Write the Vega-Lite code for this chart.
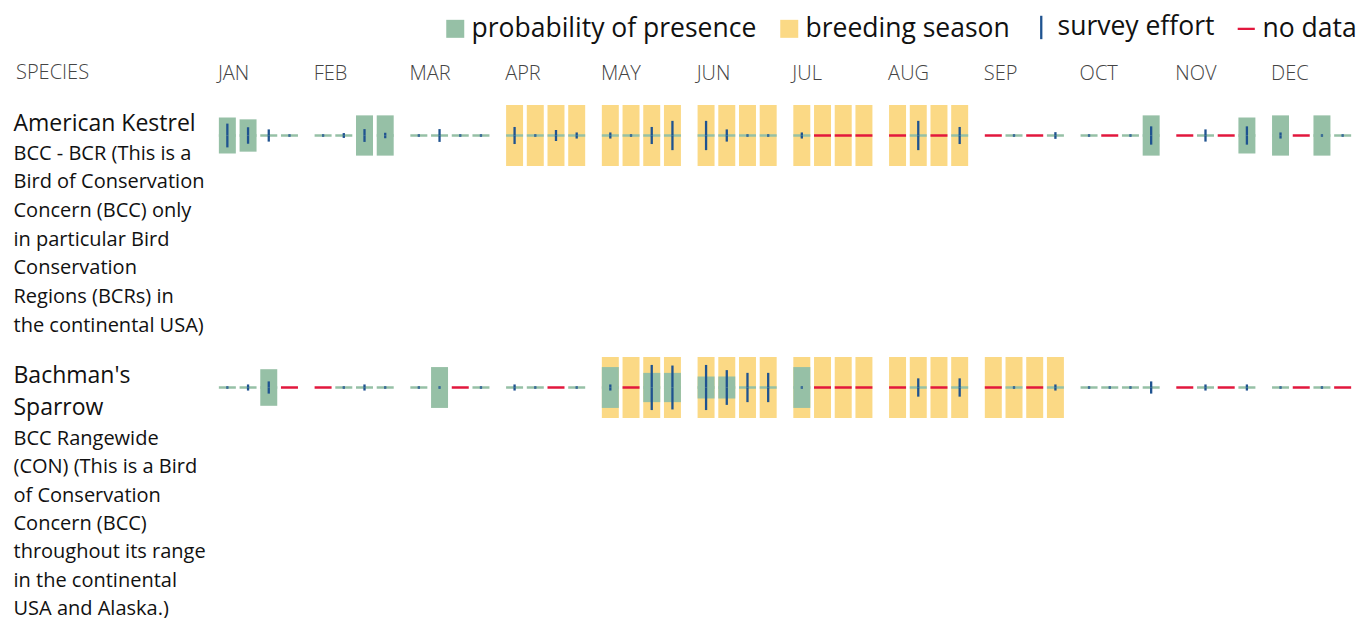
{
  "$schema": "https://vega.github.io/schema/vega-lite/v6.json",
  "padding": {"left": 13, "top": 0, "right": 0, "bottom": 0},
  "config": {
    "font": "Open Sans",
    "view": {"stroke": null}
  },
  "datasets": {
    "weeks": [
      {"sp":"AK","month":"JAN","week":1,"prob":0.59,"effort":0.39,"nodata":0,"breeding":0},
      {"sp":"AK","month":"JAN","week":2,"prob":0.53,"effort":0.27,"nodata":0,"breeding":0},
      {"sp":"AK","month":"JAN","week":3,"prob":0,"effort":0.20,"nodata":0,"breeding":0},
      {"sp":"AK","month":"JAN","week":4,"prob":0,"effort":0.04,"nodata":0,"breeding":0},
      {"sp":"AK","month":"FEB","week":1,"prob":0,"effort":0.04,"nodata":0,"breeding":0},
      {"sp":"AK","month":"FEB","week":2,"prob":0,"effort":0.08,"nodata":0,"breeding":0},
      {"sp":"AK","month":"FEB","week":3,"prob":0.66,"effort":0.21,"nodata":0,"breeding":0},
      {"sp":"AK","month":"FEB","week":4,"prob":0.66,"effort":0.09,"nodata":0,"breeding":0},
      {"sp":"AK","month":"MAR","week":1,"prob":0,"effort":0.04,"nodata":0,"breeding":0},
      {"sp":"AK","month":"MAR","week":2,"prob":0,"effort":0.21,"nodata":0,"breeding":0},
      {"sp":"AK","month":"MAR","week":3,"prob":0,"effort":0.04,"nodata":0,"breeding":0},
      {"sp":"AK","month":"MAR","week":4,"prob":0,"effort":0.04,"nodata":0,"breeding":0},
      {"sp":"AK","month":"APR","week":1,"prob":0,"effort":0.28,"nodata":0,"breeding":1},
      {"sp":"AK","month":"APR","week":2,"prob":0,"effort":0.04,"nodata":0,"breeding":1},
      {"sp":"AK","month":"APR","week":3,"prob":0,"effort":0.18,"nodata":0,"breeding":1},
      {"sp":"AK","month":"APR","week":4,"prob":0,"effort":0.10,"nodata":0,"breeding":1},
      {"sp":"AK","month":"MAY","week":1,"prob":0,"effort":0.10,"nodata":0,"breeding":1},
      {"sp":"AK","month":"MAY","week":2,"prob":0,"effort":0.04,"nodata":0,"breeding":1},
      {"sp":"AK","month":"MAY","week":3,"prob":0,"effort":0.28,"nodata":0,"breeding":1},
      {"sp":"AK","month":"MAY","week":4,"prob":0,"effort":0.48,"nodata":0,"breeding":1},
      {"sp":"AK","month":"JUN","week":1,"prob":0,"effort":0.48,"nodata":0,"breeding":1},
      {"sp":"AK","month":"JUN","week":2,"prob":0,"effort":0.20,"nodata":0,"breeding":1},
      {"sp":"AK","month":"JUN","week":3,"prob":0,"effort":0.04,"nodata":0,"breeding":1},
      {"sp":"AK","month":"JUN","week":4,"prob":0,"effort":0.04,"nodata":0,"breeding":1},
      {"sp":"AK","month":"JUL","week":1,"prob":0,"effort":0.10,"nodata":0,"breeding":1},
      {"sp":"AK","month":"JUL","week":2,"prob":0,"effort":0,"nodata":1,"breeding":1},
      {"sp":"AK","month":"JUL","week":3,"prob":0,"effort":0,"nodata":1,"breeding":1},
      {"sp":"AK","month":"JUL","week":4,"prob":0,"effort":0,"nodata":1,"breeding":1},
      {"sp":"AK","month":"AUG","week":1,"prob":0,"effort":0,"nodata":1,"breeding":1},
      {"sp":"AK","month":"AUG","week":2,"prob":0,"effort":0.48,"nodata":0,"breeding":1},
      {"sp":"AK","month":"AUG","week":3,"prob":0,"effort":0,"nodata":1,"breeding":1},
      {"sp":"AK","month":"AUG","week":4,"prob":0,"effort":0.28,"nodata":0,"breeding":1},
      {"sp":"AK","month":"SEP","week":1,"prob":0,"effort":0,"nodata":1,"breeding":0},
      {"sp":"AK","month":"SEP","week":2,"prob":0,"effort":0.04,"nodata":0,"breeding":0},
      {"sp":"AK","month":"SEP","week":3,"prob":0,"effort":0,"nodata":1,"breeding":0},
      {"sp":"AK","month":"SEP","week":4,"prob":0,"effort":0.11,"nodata":0,"breeding":0},
      {"sp":"AK","month":"OCT","week":1,"prob":0,"effort":0.04,"nodata":0,"breeding":0},
      {"sp":"AK","month":"OCT","week":2,"prob":0,"effort":0,"nodata":1,"breeding":0},
      {"sp":"AK","month":"OCT","week":3,"prob":0,"effort":0.04,"nodata":0,"breeding":0},
      {"sp":"AK","month":"OCT","week":4,"prob":0.66,"effort":0.30,"nodata":0,"breeding":0},
      {"sp":"AK","month":"NOV","week":1,"prob":0,"effort":0,"nodata":1,"breeding":0},
      {"sp":"AK","month":"NOV","week":2,"prob":0,"effort":0.20,"nodata":0,"breeding":0},
      {"sp":"AK","month":"NOV","week":3,"prob":0,"effort":0,"nodata":1,"breeding":0},
      {"sp":"AK","month":"NOV","week":4,"prob":0.59,"effort":0.30,"nodata":0,"breeding":0},
      {"sp":"AK","month":"DEC","week":1,"prob":0.66,"effort":0.10,"nodata":0,"breeding":0},
      {"sp":"AK","month":"DEC","week":2,"prob":0,"effort":0,"nodata":1,"breeding":0},
      {"sp":"AK","month":"DEC","week":3,"prob":0.66,"effort":0.04,"nodata":0,"breeding":0},
      {"sp":"AK","month":"DEC","week":4,"prob":0,"effort":0.04,"nodata":0,"breeding":0},
      {"sp":"BS","month":"JAN","week":1,"prob":0,"effort":0.04,"nodata":0,"breeding":0},
      {"sp":"BS","month":"JAN","week":2,"prob":0,"effort":0.10,"nodata":0,"breeding":0},
      {"sp":"BS","month":"JAN","week":3,"prob":0.60,"effort":0.20,"nodata":0,"breeding":0},
      {"sp":"BS","month":"JAN","week":4,"prob":0,"effort":0,"nodata":1,"breeding":0},
      {"sp":"BS","month":"FEB","week":1,"prob":0,"effort":0,"nodata":1,"breeding":0},
      {"sp":"BS","month":"FEB","week":2,"prob":0,"effort":0.04,"nodata":0,"breeding":0},
      {"sp":"BS","month":"FEB","week":3,"prob":0,"effort":0.10,"nodata":0,"breeding":0},
      {"sp":"BS","month":"FEB","week":4,"prob":0,"effort":0.04,"nodata":0,"breeding":0},
      {"sp":"BS","month":"MAR","week":1,"prob":0,"effort":0.04,"nodata":0,"breeding":0},
      {"sp":"BS","month":"MAR","week":2,"prob":0.67,"effort":0.04,"nodata":0,"breeding":0},
      {"sp":"BS","month":"MAR","week":3,"prob":0,"effort":0,"nodata":1,"breeding":0},
      {"sp":"BS","month":"MAR","week":4,"prob":0,"effort":0.04,"nodata":0,"breeding":0},
      {"sp":"BS","month":"APR","week":1,"prob":0,"effort":0.10,"nodata":0,"breeding":0},
      {"sp":"BS","month":"APR","week":2,"prob":0,"effort":0.04,"nodata":0,"breeding":0},
      {"sp":"BS","month":"APR","week":3,"prob":0,"effort":0,"nodata":1,"breeding":0},
      {"sp":"BS","month":"APR","week":4,"prob":0,"effort":0.04,"nodata":0,"breeding":0},
      {"sp":"BS","month":"MAY","week":1,"prob":0.67,"effort":0.10,"nodata":0,"breeding":1},
      {"sp":"BS","month":"MAY","week":2,"prob":0,"effort":0,"nodata":1,"breeding":1},
      {"sp":"BS","month":"MAY","week":3,"prob":0.48,"effort":0.74,"nodata":0,"breeding":1},
      {"sp":"BS","month":"MAY","week":4,"prob":0.48,"effort":0.72,"nodata":0,"breeding":1},
      {"sp":"BS","month":"JUN","week":1,"prob":0.36,"effort":0.74,"nodata":0,"breeding":1},
      {"sp":"BS","month":"JUN","week":2,"prob":0.36,"effort":0.57,"nodata":0,"breeding":1},
      {"sp":"BS","month":"JUN","week":3,"prob":0,"effort":0.48,"nodata":0,"breeding":1},
      {"sp":"BS","month":"JUN","week":4,"prob":0,"effort":0.48,"nodata":0,"breeding":1},
      {"sp":"BS","month":"JUL","week":1,"prob":0.67,"effort":0.04,"nodata":0,"breeding":1},
      {"sp":"BS","month":"JUL","week":2,"prob":0,"effort":0,"nodata":1,"breeding":1},
      {"sp":"BS","month":"JUL","week":3,"prob":0,"effort":0,"nodata":1,"breeding":1},
      {"sp":"BS","month":"JUL","week":4,"prob":0,"effort":0,"nodata":1,"breeding":1},
      {"sp":"BS","month":"AUG","week":1,"prob":0,"effort":0,"nodata":1,"breeding":1},
      {"sp":"BS","month":"AUG","week":2,"prob":0,"effort":0.30,"nodata":0,"breeding":1},
      {"sp":"BS","month":"AUG","week":3,"prob":0,"effort":0,"nodata":1,"breeding":1},
      {"sp":"BS","month":"AUG","week":4,"prob":0,"effort":0.30,"nodata":0,"breeding":1},
      {"sp":"BS","month":"SEP","week":1,"prob":0,"effort":0,"nodata":1,"breeding":1},
      {"sp":"BS","month":"SEP","week":2,"prob":0,"effort":0.04,"nodata":0,"breeding":1},
      {"sp":"BS","month":"SEP","week":3,"prob":0,"effort":0,"nodata":1,"breeding":1},
      {"sp":"BS","month":"SEP","week":4,"prob":0,"effort":0.10,"nodata":0,"breeding":1},
      {"sp":"BS","month":"OCT","week":1,"prob":0,"effort":0.04,"nodata":0,"breeding":0},
      {"sp":"BS","month":"OCT","week":2,"prob":0,"effort":0.04,"nodata":0,"breeding":0},
      {"sp":"BS","month":"OCT","week":3,"prob":0,"effort":0.04,"nodata":0,"breeding":0},
      {"sp":"BS","month":"OCT","week":4,"prob":0,"effort":0.20,"nodata":0,"breeding":0},
      {"sp":"BS","month":"NOV","week":1,"prob":0,"effort":0,"nodata":1,"breeding":0},
      {"sp":"BS","month":"NOV","week":2,"prob":0,"effort":0.10,"nodata":0,"breeding":0},
      {"sp":"BS","month":"NOV","week":3,"prob":0,"effort":0,"nodata":1,"breeding":0},
      {"sp":"BS","month":"NOV","week":4,"prob":0,"effort":0.10,"nodata":0,"breeding":0},
      {"sp":"BS","month":"DEC","week":1,"prob":0,"effort":0.04,"nodata":0,"breeding":0},
      {"sp":"BS","month":"DEC","week":2,"prob":0,"effort":0,"nodata":1,"breeding":0},
      {"sp":"BS","month":"DEC","week":3,"prob":0,"effort":0.04,"nodata":0,"breeding":0},
      {"sp":"BS","month":"DEC","week":4,"prob":0,"effort":0,"nodata":1,"breeding":0}
    ],
    "lines": [
      {"sp":"AK","line":0,"kind":"name","text":"American Kestrel"},
      {"sp":"AK","line":1,"kind":"sub","text":"BCC - BCR (This is a"},
      {"sp":"AK","line":2,"kind":"sub","text":"Bird of Conservation"},
      {"sp":"AK","line":3,"kind":"sub","text":"Concern (BCC) only"},
      {"sp":"AK","line":4,"kind":"sub","text":"in particular Bird"},
      {"sp":"AK","line":5,"kind":"sub","text":"Conservation"},
      {"sp":"AK","line":6,"kind":"sub","text":"Regions (BCRs) in"},
      {"sp":"AK","line":7,"kind":"sub","text":"the continental USA)"},
      {"sp":"BS","line":0,"kind":"name","text":"Bachman's"},
      {"sp":"BS","line":1,"kind":"name","text":"Sparrow"},
      {"sp":"BS","line":2,"kind":"sub","text":"BCC Rangewide"},
      {"sp":"BS","line":3,"kind":"sub","text":"(CON) (This is a Bird"},
      {"sp":"BS","line":4,"kind":"sub","text":"of Conservation"},
      {"sp":"BS","line":5,"kind":"sub","text":"Concern (BCC)"},
      {"sp":"BS","line":6,"kind":"sub","text":"throughout its range"},
      {"sp":"BS","line":7,"kind":"sub","text":"in the continental"},
      {"sp":"BS","line":8,"kind":"sub","text":"USA and Alaska.)"}
    ]
  },
  "columns": 2,
  "spacing": {"row": 50, "column": 203},
  "align": "each",
  "bounds": "flush",
  "concat": [
    {
      "width": 1, "height": 55,
      "title": {"text": "SPECIES", "orient": "bottom", "anchor": "start", "offset": 8, "fontSize": 20, "fontWeight": 300, "color": "#444", "dx": 3, "baseline": "top"},
      "data": {"values": [{"t": ""}]},
      "mark": {"type": "text"},
      "encoding": {"text": {"field": "t"}}
    },
    {
      "width": 1136, "height": 55,
      "data": {"name": "weeks"},
      "transform": [{"filter": "datum.sp === 'AK'"}],
      "mark": {"type": "tick", "opacity": 0},
      "encoding": {
        "x": {"field": "month", "type": "ordinal",
          "scale": {"domain": ["JAN","FEB","MAR","APR","MAY","JUN","JUL","AUG","SEP","OCT","NOV","DEC"], "paddingInner": 0.135, "paddingOuter": 0},
          "axis": {"orient": "bottom", "title": null, "domain": false, "ticks": false, "tickSize": 0, "labelPadding": 8, "labelAlign": "left", "labelBaseline": "top", "labelOffset": -40.5, "labelAngle": 0, "labelFontSize": 20, "labelFontWeight": 300, "labelColor": "#444"}}
      }
    },
    {
      "width": 1, "height": 202,
      "data": {"name": "lines"},
      "transform": [{"filter": "datum.sp === 'AK'"}],
      "encoding": {
        "y": {"field": "line", "type": "quantitative", "scale": {"domain": [-0.898, 6.135], "reverse": true, "nice": false, "zero": false}, "axis": null},
        "text": {"field": "text"}
      },
      "layer": [
        {"transform": [{"filter": "datum.kind === 'name'"}], "mark": {"type": "text", "align": "left", "baseline": "alphabetic", "fontSize": 23, "color": "#111"}},
        {"transform": [{"filter": "datum.kind === 'sub'"}], "mark": {"type": "text", "align": "left", "baseline": "alphabetic", "fontSize": 20, "color": "#111"}}
      ]
    },
    {
      "width": 1136, "height": 61,
      "data": {"name": "weeks"},
      "transform": [{"filter": "datum.sp === 'AK'"}],
      "encoding": {
        "x": {"field": "month", "type": "ordinal", "scale": {"domain": ["JAN","FEB","MAR","APR","MAY","JUN","JUL","AUG","SEP","OCT","NOV","DEC"], "paddingInner": 0.135, "paddingOuter": 0}, "axis": null},
        "xOffset": {"field": "week", "type": "ordinal", "scale": {"paddingInner": 0.18, "paddingOuter": 0.09}}
      },
      "layer": [
        {"transform": [{"filter": "datum.breeding === 1"}], "mark": {"type": "bar"},
         "encoding": {"color": {"datum": "breeding season", "type": "nominal",
           "scale": {"domain": ["probability of presence","breeding season","survey effort","no data"], "range": ["#96c0a6","#fbd985","#1f5390","#e2173d"]},
           "legend": {"title": null, "orient": "none", "legendX": 429, "legendY": 14, "direction": "horizontal", "columns": 4, "padding": 0,
             "labelFontSize": 26.5, "labelFont": "Open Sans", "labelColor": "#111", "labelLimit": 500, "labelOffset": 3, "columnPadding": 18,
             "symbolSize": 324, "symbolStrokeWidth": 2.3, "symbolOpacity": 1,
             "encode": {"symbols": {"update": {
               "shape": {"signal": "datum.value === 'survey effort' ? 'M0,-1.3L0,1.3' : datum.value === 'no data' ? 'M-0.95,0L0.95,0' : 'square'"},
               "fill": {"signal": "datum.value === 'probability of presence' ? '#96c0a6' : datum.value === 'breeding season' ? '#fbd985' : 'transparent'"},
               "stroke": {"signal": "datum.value === 'survey effort' ? '#1f5390' : datum.value === 'no data' ? '#e2173d' : 'transparent'"},
               "strokeWidth": {"value": 2.3}
             }}}}}}},
        {"transform": [{"filter": "datum.prob > 0"}], "mark": {"type": "bar"},
         "encoding": {"y": {"field": "prob", "type": "quantitative", "scale": {"domain": [-1, 1]}, "axis": null}, "color": {"datum": "probability of presence", "type": "nominal"}}},
        {"transform": [{"filter": "datum.prob > 0"}], "mark": {"type": "bar"},
         "encoding": {"y": {"field": "prob", "type": "quantitative", "scale": {"domain": [-1, 1], "reverse": true}, "axis": null}, "color": {"datum": "probability of presence", "type": "nominal"}}},
        {"transform": [{"filter": "datum.nodata === 0"}], "mark": {"type": "tick", "size": 17, "thickness": 2.5, "opacity": 1},
         "encoding": {"y": {"datum": 0, "type": "quantitative", "scale": {"domain": [-1, 1]}, "axis": null}, "color": {"datum": "probability of presence", "type": "nominal"}}},
        {"transform": [{"filter": "datum.nodata === 1"}], "mark": {"type": "tick", "size": 17, "thickness": 2.5, "opacity": 1},
         "encoding": {"y": {"datum": 0, "type": "quantitative", "scale": {"domain": [-1, 1]}, "axis": null}, "color": {"datum": "no data", "type": "nominal"}}},
        {"transform": [{"filter": "datum.effort > 0"}], "mark": {"type": "bar", "width": 2.3},
         "encoding": {"y": {"field": "effort", "type": "quantitative", "scale": {"domain": [-1, 1]}, "axis": null}, "color": {"datum": "survey effort", "type": "nominal"}}},
        {"transform": [{"filter": "datum.effort > 0"}], "mark": {"type": "bar", "width": 2.3},
         "encoding": {"y": {"field": "effort", "type": "quantitative", "scale": {"domain": [-1, 1], "reverse": true}, "axis": null}, "color": {"datum": "survey effort", "type": "nominal"}}}
      ],
      "resolve": {"scale": {"y": "independent"}}
    },
    {
      "width": 1, "height": 202,
      "data": {"name": "lines"},
      "transform": [{"filter": "datum.sp === 'BS'"}],
      "encoding": {
        "text": {"field": "text"}
      },
      "layer": [
        {"transform": [{"filter": "datum.kind === 'name'"}], "mark": {"type": "text", "align": "left", "baseline": "alphabetic", "fontSize": 23, "color": "#111"},
         "encoding": {"y": {"field": "line", "type": "quantitative", "scale": {"domain": [-0.83, 5.542], "reverse": true, "nice": false, "zero": false}, "axis": null}}},
        {"transform": [{"filter": "datum.kind === 'sub'"}], "mark": {"type": "text", "align": "left", "baseline": "alphabetic", "fontSize": 20, "color": "#111"},
         "encoding": {"y": {"field": "line", "type": "quantitative", "scale": {"domain": [-1.106, 6.024], "reverse": true, "nice": false, "zero": false}, "axis": null}}}
      ],
      "resolve": {"scale": {"y": "independent"}}
    },
    {
      "width": 1136, "height": 61,
      "data": {"name": "weeks"},
      "transform": [{"filter": "datum.sp === 'BS'"}],
      "encoding": {
        "x": {"field": "month", "type": "ordinal", "scale": {"domain": ["JAN","FEB","MAR","APR","MAY","JUN","JUL","AUG","SEP","OCT","NOV","DEC"], "paddingInner": 0.135, "paddingOuter": 0}, "axis": null},
        "xOffset": {"field": "week", "type": "ordinal", "scale": {"paddingInner": 0.18, "paddingOuter": 0.09}}
      },
      "layer": [
        {"transform": [{"filter": "datum.breeding === 1"}], "mark": {"type": "bar"},
         "encoding": {"color": {"datum": "breeding season", "type": "nominal"}}},
        {"transform": [{"filter": "datum.prob > 0"}], "mark": {"type": "bar"},
         "encoding": {"y": {"field": "prob", "type": "quantitative", "scale": {"domain": [-1, 1]}, "axis": null}, "color": {"datum": "probability of presence", "type": "nominal"}}},
        {"transform": [{"filter": "datum.prob > 0"}], "mark": {"type": "bar"},
         "encoding": {"y": {"field": "prob", "type": "quantitative", "scale": {"domain": [-1, 1], "reverse": true}, "axis": null}, "color": {"datum": "probability of presence", "type": "nominal"}}},
        {"transform": [{"filter": "datum.nodata === 0"}], "mark": {"type": "tick", "size": 17, "thickness": 2.5, "opacity": 1},
         "encoding": {"y": {"datum": 0, "type": "quantitative", "scale": {"domain": [-1, 1]}, "axis": null}, "color": {"datum": "probability of presence", "type": "nominal"}}},
        {"transform": [{"filter": "datum.nodata === 1"}], "mark": {"type": "tick", "size": 17, "thickness": 2.5, "opacity": 1},
         "encoding": {"y": {"datum": 0, "type": "quantitative", "scale": {"domain": [-1, 1]}, "axis": null}, "color": {"datum": "no data", "type": "nominal"}}},
        {"transform": [{"filter": "datum.effort > 0"}], "mark": {"type": "bar", "width": 2.3},
         "encoding": {"y": {"field": "effort", "type": "quantitative", "scale": {"domain": [-1, 1]}, "axis": null}, "color": {"datum": "survey effort", "type": "nominal"}}},
        {"transform": [{"filter": "datum.effort > 0"}], "mark": {"type": "bar", "width": 2.3},
         "encoding": {"y": {"field": "effort", "type": "quantitative", "scale": {"domain": [-1, 1], "reverse": true}, "axis": null}, "color": {"datum": "survey effort", "type": "nominal"}}}
      ],
      "resolve": {"scale": {"y": "independent"}}
    }
  ]
}
